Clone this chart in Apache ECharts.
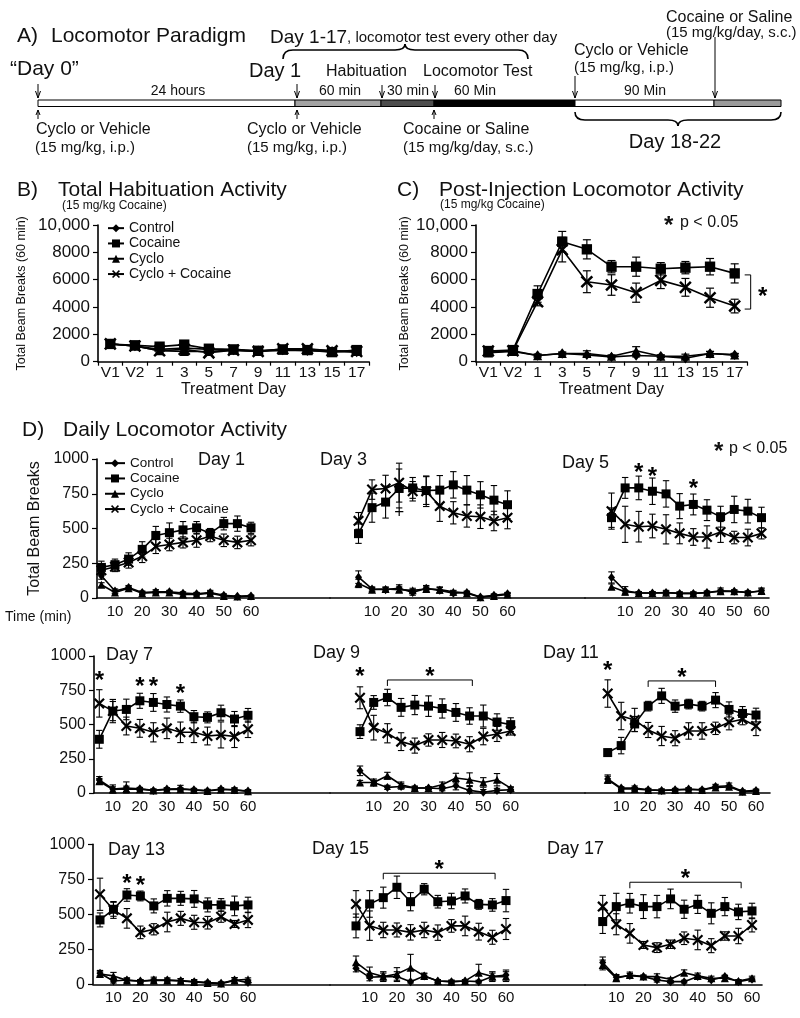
<!DOCTYPE html>
<html><head><meta charset="utf-8">
<script src="https://cdn.jsdelivr.net/npm/echarts@6/dist/echarts.min.js"></script>
<style>html,body{margin:0;padding:0;background:#fff}#c{width:800px;height:1018px}</style>
</head><body><div id="c"></div><script>
const F = "'Liberation Sans', Arial, Helvetica, sans-serif";
const K = '#000';
const TXT = '#111';

// ---------- categories / ticks ----------
const groups = ['Control', 'Cocaine', 'Cyclo', 'Cyclo + Cocaine'];
const treatDays = ['V1', 'V2', '1', '3', '5', '7', '9', '11', '13', '15', '17'];
const timeMin = [5, 10, 15, 20, 25, 30, 35, 40, 45, 50, 55, 60];
const timeTicks = [10, 20, 30, 40, 50, 60];

// ---------- B) Total Habituation Activity ----------
const habControl = [1300, 1150, 900, 1000, 900, 850, 800, 850, 800, 750, 700];
const habCocaine = [1300, 1200, 1100, 1250, 950, 900, 800, 900, 850, 700, 850];
const habCyclo = [1300, 1150, 800, 750, 750, 850, 750, 850, 900, 800, 750];
const habCycloCoc = [1300, 1150, 800, 900, 650, 850, 750, 950, 950, 800, 750];
const habControlSem = [150, 100, 100, 150, 100, 100, 100, 100, 100, 100, 100];
const habCocaineSem = [150, 150, 200, 200, 150, 100, 100, 150, 100, 150, 150];
const habCycloSem = [150, 100, 150, 100, 100, 100, 100, 100, 100, 100, 100];
const habCycloCocSem = [150, 150, 150, 150, 150, 100, 100, 200, 200, 150, 150];

// ---------- C) Post-Injection Locomotor Activity ----------
const injControl = [700, 800, 450, 600, 500, 350, 450, 400, 250, 600, 500];
const injCocaine = [780, 850, 4950, 8780, 8220, 6950, 6950, 6800, 6880, 6950, 6460];
const injCyclo = [650, 750, 450, 600, 600, 400, 800, 400, 400, 600, 500];
const injCycloCoc = [780, 800, 4390, 8200, 5850, 5610, 5050, 5950, 5440, 4680, 4070];
const injControlSem = [100, 100, 100, 100, 100, 80, 100, 80, 80, 150, 100];
const injCocaineSem = [150, 150, 600, 750, 700, 450, 700, 450, 450, 600, 700];
const injCycloSem = [150, 100, 100, 100, 200, 100, 300, 100, 150, 150, 100];
const injCycloCocSem = [150, 150, 300, 900, 800, 750, 700, 600, 650, 700, 500];
const injBracket = [[10, 6350, 3850]];

// ---------- D) Daily Locomotor Activity ----------
const d1Control = [160, 50, 75, 40, 45, 45, 35, 30, 40, 20, 12, 15];
const d1Cocaine = [220, 240, 280, 350, 450, 470, 490, 505, 465, 535, 535, 505];
const d1Cyclo = [95, 40, 70, 35, 40, 40, 25, 25, 35, 15, 10, 15];
const d1CycloCoc = [200, 225, 255, 300, 370, 385, 400, 415, 445, 415, 400, 415];
const d1ControlSem = [25, 15, 15, 10, 15, 10, 10, 10, 15, 10, 5, 5];
const d1CocaineSem = [45, 40, 45, 55, 65, 70, 60, 45, 35, 45, 55, 40];
const d1CycloSem = [15, 10, 10, 10, 10, 10, 10, 10, 10, 5, 5, 5];
const d1CycloCocSem = [30, 35, 40, 45, 50, 45, 40, 50, 40, 45, 45, 40];

const d3Control = [150, 65, 60, 70, 40, 70, 55, 35, 40, 8, 20, 30];
const d3Cocaine = [463, 650, 690, 788, 792, 773, 776, 814, 776, 742, 704, 671];
const d3Cyclo = [105, 60, 65, 60, 55, 65, 60, 45, 35, 5, 15, 25];
const d3CycloCoc = [555, 780, 788, 830, 768, 768, 661, 613, 590, 585, 554, 578];
const d3ControlSem = [45, 15, 15, 25, 20, 20, 20, 15, 10, 5, 10, 10];
const d3CocaineSem = [70, 105, 115, 140, 75, 100, 105, 95, 105, 95, 105, 100];
const d3CycloSem = [30, 15, 15, 20, 15, 15, 20, 10, 10, 5, 10, 10];
const d3CycloCocSem = [60, 70, 95, 140, 70, 110, 110, 80, 80, 85, 70, 80];

const d5Control = [148, 52, 36, 36, 40, 33, 33, 40, 52, 48, 40, 52];
const d5Cocaine = [578, 792, 792, 768, 749, 661, 673, 632, 585, 637, 625, 578];
const d5Cyclo = [81, 45, 36, 36, 38, 33, 33, 38, 48, 48, 40, 50];
const d5CycloCoc = [625, 530, 513, 518, 494, 465, 439, 439, 475, 435, 435, 465];
const d5ControlSem = [40, 30, 10, 10, 15, 10, 10, 10, 20, 10, 10, 20];
const d5CocaineSem = [70, 75, 85, 95, 95, 90, 75, 75, 75, 95, 85, 75];
const d5CycloSem = [20, 10, 10, 10, 10, 10, 10, 10, 10, 10, 10, 15];
const d5CycloCocSem = [130, 130, 110, 85, 105, 75, 60, 80, 75, 45, 60, 40];

const d7Control = [95, 29, 36, 31, 19, 29, 31, 24, 17, 29, 24, 15];
const d7Cocaine = [392, 598, 610, 673, 661, 646, 634, 557, 552, 586, 540, 567];
const d7Cyclo = [85, 25, 30, 28, 18, 25, 28, 22, 15, 25, 22, 12];
const d7CycloCoc = [654, 598, 489, 472, 443, 472, 443, 443, 416, 424, 412, 465];
const d7ControlSem = [25, 30, 45, 10, 10, 10, 25, 10, 10, 10, 15, 10];
const d7CocaineSem = [65, 85, 75, 55, 65, 55, 45, 45, 40, 55, 55, 50];
const d7CycloSem = [20, 20, 20, 10, 10, 10, 10, 10, 10, 10, 10, 10];
const d7CycloCocSem = [100, 70, 65, 65, 70, 75, 75, 75, 65, 95, 80, 60];

const d9Control = [162, 77, 41, 48, 36, 36, 31, 53, 19, 5, 19, 24];
const d9Cocaine = [448, 661, 697, 625, 642, 634, 617, 588, 562, 562, 518, 499];
const d9Cyclo = [77, 77, 126, 60, 36, 36, 60, 109, 97, 77, 97, 36];
const d9CycloCoc = [695, 477, 436, 375, 346, 387, 387, 380, 356, 412, 431, 453];
const d9ControlSem = [35, 25, 15, 20, 15, 10, 15, 30, 35, 20, 15, 15];
const d9CocaineSem = [50, 50, 60, 65, 70, 75, 70, 65, 60, 80, 60, 50];
const d9CycloSem = [15, 15, 25, 20, 10, 10, 20, 35, 50, 35, 45, 10];
const d9CycloCocSem = [80, 90, 70, 65, 55, 45, 55, 50, 55, 60, 55, 30];

const d11Control = [102, 36, 36, 24, 19, 24, 29, 24, 48, 53, 12, 19];
const d11Cocaine = [295, 346, 504, 634, 709, 634, 649, 634, 678, 610, 581, 569];
const d11Cyclo = [97, 30, 30, 22, 18, 22, 25, 22, 40, 45, 10, 15];
const d11CycloCoc = [726, 562, 533, 460, 416, 400, 453, 453, 472, 516, 538, 489];
const d11ControlSem = [30, 10, 15, 10, 10, 10, 10, 10, 15, 20, 10, 10];
const d11CocaineSem = [25, 60, 55, 35, 55, 45, 35, 35, 55, 55, 50, 50];
const d11CycloSem = [25, 10, 10, 10, 10, 10, 10, 10, 10, 10, 10, 10];
const d11CycloCocSem = [100, 100, 85, 55, 70, 55, 60, 60, 45, 55, 40, 70];

const d13Control = [79, 24, 31, 24, 31, 31, 26, 19, 12, 7, 31, 12];
const d13Cocaine = [460, 536, 638, 631, 560, 614, 614, 610, 567, 567, 560, 567];
const d13Cyclo = [74, 60, 28, 22, 28, 28, 24, 16, 10, 5, 28, 36];
const d13CycloCoc = [643, 531, 471, 371, 393, 445, 471, 443, 440, 483, 431, 460];
const d13ControlSem = [20, 15, 15, 10, 20, 15, 15, 15, 10, 10, 15, 20];
const d13CocaineSem = [50, 50, 45, 35, 50, 55, 50, 60, 50, 45, 70, 55];
const d13CycloSem = [15, 25, 15, 10, 10, 10, 15, 10, 10, 10, 20, 10];
const d13CycloCocSem = [115, 60, 70, 45, 40, 70, 50, 50, 45, 40, 25, 55];

const d15Control = [114, 50, 55, 55, 19, 60, 24, 19, 24, 19, 55, 67];
const d15Cocaine = [417, 574, 619, 693, 590, 679, 590, 595, 631, 571, 567, 598];
const d15Cyclo = [157, 83, 55, 74, 119, 60, 24, 19, 24, 83, 55, 55];
const d15CycloCoc = [574, 419, 388, 388, 371, 388, 369, 417, 417, 376, 336, 395];
const d15ControlSem = [25, 25, 25, 35, 10, 15, 10, 10, 10, 10, 25, 35];
const d15CocaineSem = [85, 95, 75, 80, 65, 40, 45, 55, 50, 35, 45, 80];
const d15CycloSem = [45, 40, 35, 45, 95, 20, 10, 10, 10, 60, 35, 35];
const d15CycloCocSem = [95, 105, 55, 50, 55, 55, 55, 45, 70, 60, 50, 75];

const d17Control = [155, 50, 62, 55, 31, 19, 19, 55, 31, 55, 19, 36];
const d17Cocaine = [448, 555, 579, 555, 555, 610, 536, 571, 507, 555, 517, 524];
const d17Cyclo = [138, 43, 67, 55, 55, 36, 83, 60, 43, 43, 24, 43];
const d17CycloCoc = [555, 429, 364, 281, 262, 286, 329, 317, 276, 345, 345, 424];
const d17ControlSem = [40, 20, 15, 10, 15, 10, 10, 10, 10, 10, 10, 10];
const d17CocaineSem = [85, 95, 70, 85, 80, 70, 65, 65, 75, 65, 55, 55];
const d17CycloSem = [35, 20, 20, 10, 20, 10, 20, 20, 15, 20, 10, 15];
const d17CycloCocSem = [80, 75, 70, 25, 35, 30, 45, 70, 50, 30, 55, 50];

// significance annotations [time, value] and brackets [t1, t2, value]
const d3Plus = [[20, 619]];
const d5Stars = [[15, 942], [20, 914], [35, 827]];
const d7Stars = [[5, 861], [20, 818], [25, 818], [35, 766]];
const d9Stars = [[5, 890]];
const d9Bracket = [[15, 46, 825]];
const d11Stars = [[5, 934]];
const d11Bracket = [[20, 45, 818]];
const d13Stars = [[15, 757], [20, 743]];
const d15Bracket = [[15, 56, 793]];
const d17Bracket = [[15, 56, 729]];

const days = [
  {label: 'Day 1', v: [d1Control, d1Cocaine, d1Cyclo, d1CycloCoc], e: [d1ControlSem, d1CocaineSem, d1CycloSem, d1CycloCocSem]},
  {label: 'Day 3', v: [d3Control, d3Cocaine, d3Cyclo, d3CycloCoc], e: [d3ControlSem, d3CocaineSem, d3CycloSem, d3CycloCocSem], plus: d3Plus},
  {label: 'Day 5', v: [d5Control, d5Cocaine, d5Cyclo, d5CycloCoc], e: [d5ControlSem, d5CocaineSem, d5CycloSem, d5CycloCocSem], stars: d5Stars},
  {label: 'Day 7', v: [d7Control, d7Cocaine, d7Cyclo, d7CycloCoc], e: [d7ControlSem, d7CocaineSem, d7CycloSem, d7CycloCocSem], stars: d7Stars},
  {label: 'Day 9', v: [d9Control, d9Cocaine, d9Cyclo, d9CycloCoc], e: [d9ControlSem, d9CocaineSem, d9CycloSem, d9CycloCocSem], stars: d9Stars, br: d9Bracket},
  {label: 'Day 11', v: [d11Control, d11Cocaine, d11Cyclo, d11CycloCoc], e: [d11ControlSem, d11CocaineSem, d11CycloSem, d11CycloCocSem], stars: d11Stars, br: d11Bracket},
  {label: 'Day 13', v: [d13Control, d13Cocaine, d13Cyclo, d13CycloCoc], e: [d13ControlSem, d13CocaineSem, d13CycloSem, d13CycloCocSem], stars: d13Stars},
  {label: 'Day 15', v: [d15Control, d15Cocaine, d15Cyclo, d15CycloCoc], e: [d15ControlSem, d15CocaineSem, d15CycloSem, d15CycloCocSem], br: d15Bracket},
  {label: 'Day 17', v: [d17Control, d17Cocaine, d17Cyclo, d17CycloCoc], e: [d17ControlSem, d17CocaineSem, d17CycloSem, d17CycloCocSem], br: d17Bracket}
];

// ---------- styling / layout ----------
const XPATH = 'path://M0,1.4L1.4,0L5,3.6L8.6,0L10,1.4L6.4,5L10,8.6L8.6,10L5,6.4L1.4,10L0,8.6L3.6,5Z';
const SYM = [
  {symbol: 'diamond', size: [7, 9]},
  {symbol: 'rect', size: [9, 9]},
  {symbol: 'triangle', size: [8, 8]},
  {symbol: XPATH, size: [11, 11]}
];
const dayLabelPos = [[198, 460], [320, 460], [562, 463], [106, 655], [313, 653], [543, 653], [108, 850], [312, 849], [547, 849]];
const rowsLayout = [
  {top: 459, h: 139, axisX: 97, right: 769, cols: [[101.4, 251], [358.5, 507.5], [611.5, 761.5]]},
  {top: 656, h: 137, axisX: 94, right: 770, cols: [[99.3, 248], [360, 510.7], [607.7, 756]]},
  {top: 844.3, h: 140, axisX: 93, right: 762, cols: [[100, 248], [356, 506], [602.7, 752]]}
];
const colBounds = [330, 585];

const option = {
  animation: false,
  backgroundColor: '#ffffff',
  textStyle: {fontFamily: F, color: TXT},
  grid: [], xAxis: [], yAxis: [], series: [], legend: [],
  graphic: {elements: []}
};
const G = option.graphic.elements;

function T(x, y, text, size, extra) {
  return {type: 'text', x: x, y: y, silent: true, z: 100,
    style: Object.assign({text: text, fontSize: size, fontFamily: F, fill: TXT,
      textAlign: 'left', textVerticalAlign: 'middle', align: 'left', verticalAlign: 'middle'}, extra || {})};
}
function L(x1, y1, x2, y2, w) {
  return {type: 'line', silent: true, z: 100, shape: {x1: x1, y1: y1, x2: x2, y2: y2}, style: {stroke: K, lineWidth: w || 1}};
}
function PL(pts, w) {
  return {type: 'polyline', silent: true, z: 100, shape: {points: pts}, style: {stroke: K, lineWidth: w || 1, fill: null}};
}
function BZ(x1, y1, cx, cy, x2, y2, w) {
  return {type: 'bezierCurve', silent: true, z: 100, shape: {x1: x1, y1: y1, cpx1: cx, cpy1: cy, x2: x2, y2: y2}, style: {stroke: K, lineWidth: w || 1.6, fill: null}};
}
function arrowDown(x, y1, y2) { return [L(x, y1, x, y2, 1), PL([[x - 2.5, y2 - 7], [x, y2], [x + 2.5, y2 - 7]], 1)]; }
function arrowUp(x, y1, y2) { return [L(x, y1, x, y2, 1), PL([[x - 2, y2 + 5], [x, y2], [x + 2, y2 + 5]], 1)]; }

function errSeries(gi, rows, cap, lw) {
  return {type: 'custom', name: 'sem', xAxisIndex: gi, yAxisIndex: gi, silent: true, z: 3,
    encode: {x: 0, y: [1, 2]}, data: rows,
    renderItem: function (p, api) {
      const x = api.value(0), lo = api.value(1), hi = api.value(2);
      const a = api.coord([x, hi]), b = api.coord([x, lo]);
      const st = {stroke: K, lineWidth: lw};
      return {type: 'group', children: [
        {type: 'line', shape: {x1: a[0], y1: a[1], x2: b[0], y2: b[1]}, style: st},
        {type: 'line', shape: {x1: a[0] - cap, y1: a[1], x2: a[0] + cap, y2: a[1]}, style: st},
        {type: 'line', shape: {x1: b[0] - cap, y1: b[1], x2: b[0] + cap, y2: b[1]}, style: st}
      ]};
    }};
}
function lineSeries(gi, gIdx, data, scale) {
  const s = SYM[gIdx];
  return {type: 'line', name: groups[gIdx], xAxisIndex: gi, yAxisIndex: gi, data: data,
    symbol: s.symbol, symbolSize: [s.size[0] * scale, s.size[1] * scale], showSymbol: true,
    itemStyle: {color: K}, lineStyle: {color: K, width: 1.6}, emphasis: {disabled: true},
    z: 4 + gIdx, silent: true};
}
function textSeries(gi, pts, ch, size, bold, dy) {
  return {type: 'custom', name: 'annot', xAxisIndex: gi, yAxisIndex: gi, silent: true, z: 8, data: pts,
    encode: {x: 0, y: 1},
    renderItem: function (p, api) {
      const q = api.coord([api.value(0), api.value(1)]);
      return {type: 'text', x: q[0], y: q[1] + dy, style: {text: ch, fontSize: size, fontWeight: bold ? 'bold' : 'normal',
        fontFamily: F, fill: K, align: 'center', verticalAlign: 'middle', textAlign: 'center', textVerticalAlign: 'middle'}};
    }};
}
function bracketSeries(gi, brs) {
  return {type: 'custom', name: 'annot', xAxisIndex: gi, yAxisIndex: gi, silent: true, z: 8, data: brs,
    encode: {x: [0, 1], y: 2},
    renderItem: function (p, api) {
      const a = api.coord([api.value(0), api.value(2)]);
      const b = api.coord([api.value(1), api.value(2)]);
      return {type: 'group', children: [
        {type: 'polyline', shape: {points: [[a[0], a[1] + 6], [a[0], a[1]], [b[0], b[1]], [b[0], b[1] + 6]]}, style: {stroke: K, lineWidth: 1, fill: null}},
        {type: 'text', x: (a[0] + b[0]) / 2, y: a[1] - 3, style: {text: '*', fontSize: 24, fontWeight: 'bold', fontFamily: F, fill: K,
          align: 'center', verticalAlign: 'middle', textAlign: 'center', textVerticalAlign: 'middle'}}
      ]};
    }};
}
const plainNum = function (v) { return String(v); };

// ---------- B and C ----------
function addBC(left, vals, sems, nameGap) {
  const gi = option.grid.length;
  option.grid.push({left: left, top: 225, width: 271, height: 136.7, containLabel: false, outerBoundsMode: 'none'});
  option.xAxis.push({gridIndex: gi, type: 'category', data: treatDays, boundaryGap: true,
    axisLine: {show: true, lineStyle: {color: K, width: 1.6}},
    axisTick: {show: true, length: 4, lineStyle: {color: K, width: 1.2}},
    axisLabel: {fontSize: 15.5, color: TXT, margin: 3, interval: 0, fontFamily: F},
    splitLine: {show: false},
    name: 'Treatment Day', nameLocation: 'middle', nameGap: 15,
    nameTextStyle: {fontSize: 16, color: TXT, fontFamily: F}});
  option.yAxis.push({gridIndex: gi, type: 'value', min: 0, max: 10000, interval: 2000,
    axisLine: {show: true, lineStyle: {color: K, width: 1.6}},
    axisTick: {show: true, length: 5, lineStyle: {color: K, width: 1.2}},
    axisLabel: {fontSize: 17, color: TXT, margin: 8, fontFamily: F, formatter: function (v) { return v === 10000 ? '10,000' : String(v); }},
    splitLine: {show: false},
    name: 'Total Beam Breaks (60 min)', nameLocation: 'middle', nameGap: nameGap,
    nameTextStyle: {fontSize: 12.5, color: TXT, fontFamily: F}});
  const rows = [];
  vals.forEach(function (arr, g) { arr.forEach(function (v, i) { rows.push([i, Math.max(0, v - sems[g][i]), v + sems[g][i]]); }); });
  option.series.push(errSeries(gi, rows, 4, 1.2));
  vals.forEach(function (arr, g) { option.series.push(lineSeries(gi, g, arr, 1.15)); });
  return gi;
}
addBC(98, [habControl, habCocaine, habCyclo, habCycloCoc], [habControlSem, habCocaineSem, habCycloSem, habCycloCocSem], 70);
const giC = addBC(476, [injControl, injCocaine, injCyclo, injCycloCoc], [injControlSem, injCocaineSem, injCycloSem, injCycloCocSem], 65);
option.series.push({type: 'custom', name: 'annot', xAxisIndex: giC, yAxisIndex: giC, silent: true, z: 8, data: injBracket,
  encode: {x: 0, y: [1, 2]},
  renderItem: function (p, api) {
    const a = api.coord([api.value(0), api.value(1)]);
    const b = api.coord([api.value(0), api.value(2)]);
    const x = a[0] + 16;
    return {type: 'group', children: [
      {type: 'polyline', shape: {points: [[x - 6, a[1]], [x, a[1]], [x, b[1]], [x - 6, b[1]]]}, style: {stroke: K, lineWidth: 1, fill: null}},
      {type: 'text', x: x + 12, y: (a[1] + b[1]) / 2 + 5, style: {text: '*', fontSize: 24, fontWeight: 'bold', fontFamily: F, fill: K,
        align: 'center', verticalAlign: 'middle', textAlign: 'center', textVerticalAlign: 'middle'}}
    ]};
  }});

option.legend.push({left: 102, top: 215.5, orient: 'vertical', itemWidth: 16, itemHeight: 10, itemGap: 0,
  selectedMode: false, data: groups, textStyle: {fontSize: 14, fontFamily: F, color: TXT, lineHeight: 15.3}});

// ---------- D ----------
days.forEach(function (d, idx) {
  const r = Math.floor(idx / 3), c = idx % 3;
  const RL = rowsLayout[r];
  const t5 = RL.cols[c][0], t60 = RL.cols[c][1];
  const left = c === 0 ? RL.axisX : colBounds[c - 1];
  const right = c === 2 ? RL.right : colBounds[c];
  const s = (t60 - t5) / 55;
  const xmin = 5 - (t5 - left) / s, xmax = 60 + (right - t60) / s;
  const gi = option.grid.length;
  option.grid.push({left: left, top: RL.top, width: right - left, height: RL.h, containLabel: false, outerBoundsMode: 'none'});
  option.xAxis.push({gridIndex: gi, type: 'value', min: xmin, max: xmax,
    axisLine: {show: true, lineStyle: {color: K, width: 1.6}},
    axisTick: {show: false},
    axisLabel: {customValues: timeTicks, fontSize: 15, color: TXT, margin: 6, fontFamily: F, formatter: plainNum},
    splitLine: {show: false}});
  if (c === 0) {
    const ya = {gridIndex: gi, type: 'value', min: 0, max: 1000, interval: 250,
      axisLine: {show: true, lineStyle: {color: K, width: 1.6}},
      axisTick: {show: true, length: 5, lineStyle: {color: K, width: 1.2}},
      axisLabel: {fontSize: 16, color: TXT, margin: 8, fontFamily: F, formatter: plainNum},
      splitLine: {show: false}};
    if (r === 0) {
      ya.name = 'Total Beam Breaks'; ya.nameLocation = 'middle'; ya.nameGap = 54;
      ya.nameTextStyle = {fontSize: 16, color: TXT, fontFamily: F};
    }
    option.yAxis.push(ya);
  } else {
    option.yAxis.push({gridIndex: gi, type: 'value', min: 0, max: 1000, show: false, splitLine: {show: false}});
  }
  const rows = [];
  d.v.forEach(function (arr, g) { arr.forEach(function (v, i) { rows.push([timeMin[i], Math.max(0, v - d.e[g][i]), v + d.e[g][i]]); }); });
  option.series.push(errSeries(gi, rows, 3.2, 1.1));
  d.v.forEach(function (arr, g) {
    option.series.push(lineSeries(gi, g, arr.map(function (v, i) { return [timeMin[i], v]; }), 1));
  });
  if (d.stars) option.series.push(textSeries(gi, d.stars, '*', 24, true, 6));
  if (d.plus) option.series.push(textSeries(gi, d.plus, '+', 17, false, 0));
  if (d.br) option.series.push(bracketSeries(gi, d.br));
  G.push(T(dayLabelPos[idx][0], dayLabelPos[idx][1], d.label, 18));
});
option.legend.push({left: 99, top: 450.5, orient: 'vertical', itemWidth: 20, itemHeight: 10, itemGap: 0,
  selectedMode: false, data: groups, textStyle: {fontSize: 13.5, fontFamily: F, color: TXT, lineHeight: 15.3}});

// ---------- titles & notes ----------
G.push(T(17, 190, 'B)', 21), T(58, 190, 'Total Habituation Activity', 21), T(62, 206, '(15 mg/kg Cocaine)', 12));
G.push(T(397, 190, 'C)', 21), T(439, 190, 'Post-Injection Locomotor Activity', 21), T(440, 205, '(15 mg/kg Cocaine)', 12));
G.push(T(664, 226, '*', 24, {fontWeight: 'bold'}), T(680, 223, 'p < 0.05', 16));
G.push(T(22, 430, 'D)', 21), T(63, 430, 'Daily Locomotor Activity', 21));
G.push(T(714, 452, '*', 24, {fontWeight: 'bold'}), T(729, 449, 'p < 0.05', 16));
G.push(T(5, 617, 'Time (min)', 14));

// ---------- A) Locomotor paradigm (schematic) ----------
G.push(T(17, 36, 'A)', 21), T(51, 36, 'Locomotor Paradigm', 21));
G.push(T(270, 38, '{a|Day 1-17}{b|, locomotor test every other day}', 15, {rich: {a: {fontSize: 19, fontFamily: F, fill: TXT}, b: {fontSize: 15, fontFamily: F, fill: TXT}}}));
// top brace
G.push(BZ(283, 59, 283, 50, 293, 50), L(293, 50, 395, 50, 1.6), BZ(395, 50, 405, 50, 405, 44), BZ(405, 44, 405, 50, 415, 50), L(415, 50, 518, 50, 1.6), BZ(518, 50, 528, 50, 528, 59));
G.push(T(10, 69, '\u201CDay 0\u201D', 21), T(249, 71, 'Day 1', 20), T(326, 72, 'Habituation', 16), T(423, 72, 'Locomotor Test', 16));
G.push(T(178, 91, '24 hours', 14, {textAlign: 'center', align: 'center'}), T(340, 91, '60 min', 14, {textAlign: 'center', align: 'center'}),
  T(408, 91, '30 min', 14, {textAlign: 'center', align: 'center'}), T(475, 91, '60 Min', 14, {textAlign: 'center', align: 'center'}),
  T(645, 91, '90 Min', 14, {textAlign: 'center', align: 'center'}));
// bar segments
[[38, 295, '#ffffff'], [295, 381, '#a3a3a3'], [381, 434, '#4d4d4d'], [434, 575, '#000000'], [575, 714, '#ffffff'], [714, 781, '#9a9a9a']].forEach(function (sg) {
  G.push({type: 'rect', silent: true, z: 100, shape: {x: sg[0], y: 100, width: sg[1] - sg[0], height: 6.5}, style: {fill: sg[2], stroke: K, lineWidth: 1}});
});
G.push.apply(G, arrowDown(38, 84, 98));
G.push.apply(G, arrowDown(297, 84, 98));
G.push.apply(G, arrowDown(382, 85, 98));
G.push.apply(G, arrowDown(435, 85, 98));
G.push.apply(G, arrowDown(575, 76, 98));
G.push.apply(G, arrowDown(715, 37, 98));
G.push.apply(G, arrowUp(38, 119, 110));
G.push.apply(G, arrowUp(297, 119, 110));
G.push.apply(G, arrowUp(434, 119, 110));
G.push(T(36, 130, 'Cyclo or Vehicle', 16), T(35, 148, '(15 mg/kg, i.p.)', 15));
G.push(T(247, 130, 'Cyclo or Vehicle', 16), T(247, 148, '(15 mg/kg, i.p.)', 15));
G.push(T(403, 130, 'Cocaine or Saline', 16), T(403, 148, '(15 mg/kg/day, s.c.)', 15));
G.push(T(574, 51, 'Cyclo or Vehicle', 16), T(574, 68, '(15 mg/kg, i.p.)', 15));
G.push(T(666, 18, 'Cocaine or Saline', 16), T(666, 33, '(15 mg/kg/day, s.c.)', 15));
// bottom brace
G.push(BZ(575, 112, 575, 120, 585, 120), L(585, 120, 668, 120, 1.6), BZ(668, 120, 678, 120, 678, 126), BZ(678, 126, 678, 120, 688, 120), L(688, 120, 771, 120, 1.6), BZ(771, 120, 781, 120, 781, 112));
G.push(T(675, 142, 'Day 18-22', 20, {textAlign: 'center', align: 'center'}));

const chart = echarts.init(document.getElementById('c'), null, {renderer: 'canvas'});
chart.setOption(option);
</script></body></html>
